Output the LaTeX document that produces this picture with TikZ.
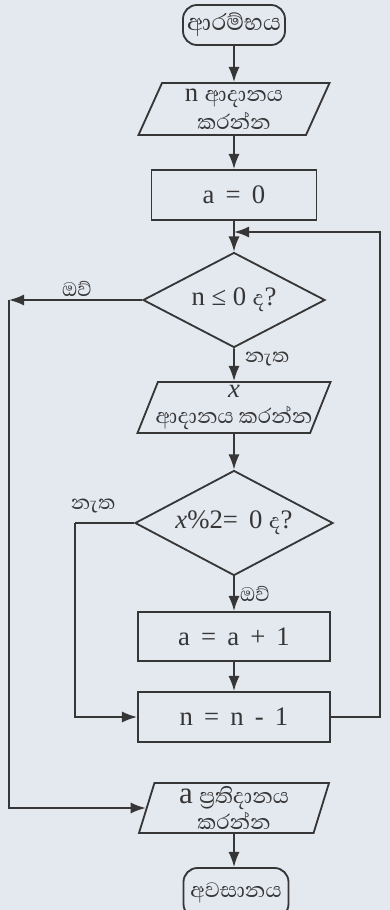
\documentclass[tikz,border=0pt]{standalone}
\usepackage{fontspec}
\setmainfont{Liberation Serif}
\newfontfamily\sinhala[Script=Sinhala]{Abhaya Libre}
\usepackage{xcolor}
\usepackage{tikz}
\usetikzlibrary{shapes.geometric,arrows.meta}
\definecolor{paper}{HTML}{E4E8EF}
\definecolor{ink}{HTML}{363636}

\begin{document}
\begin{tikzpicture}[x=0.25mm, y=-0.25mm, line width=1.3pt, color=ink,
    font=\fontsize{19}{22}\selectfont,
    flow/.style={-{Latex[length=3.8mm,width=2.8mm]}},
    term/.style={draw, rounded corners=3.5mm, inner sep=0pt},
    proc/.style={draw, rectangle, inner sep=0pt},
    io/.style={draw, trapezium, trapezium stretches body, inner ysep=0pt, inner xsep=-4mm, align=center},
    test/.style={draw, diamond, aspect=1.9, inner sep=0pt},
    lbl/.style={font=\sinhala\fontsize{18}{21}\selectfont}]

      % --- paper, fixed to the reference size ---
      \fill[paper] (0,0) rectangle (390,910);
      \clip (0,0) rectangle (390,910);

      % --- main column of steps ---
      \node[term, minimum width=25.5mm, minimum height=10mm] (start) at (234,25) {\sinhala\fontsize{21}{24}\selectfont ආරම්භය};
      \node[io, trapezium left angle=60, trapezium right angle=120,
            minimum width=47.75mm, minimum height=13mm, font=\fontsize{19}{20}\selectfont] (readn) at (234,109)
            {n \sinhala ආදානය\\\sinhala කරන්න};
      \node[proc, minimum width=41.25mm, minimum height=12.5mm] (seta) at (234,195) {a \,=\, 0};
      \node[test, minimum width=45.5mm, minimum height=23.75mm] (testn) at (234,300) {n ≤ 0 {\sinhala ද}?};
      \node[io, trapezium left angle=65, trapezium right angle=115,
            minimum width=48.25mm, minimum height=12.75mm, font=\fontsize{19}{18}\selectfont] (readx) at (234,407.5)
            {\textit{x}\\\sinhala ආදානය කරන්න};
      \node[test, minimum width=49.5mm, minimum height=26.25mm] (testx) at (234,523) {\textit{x}\%2= \,0 {\sinhala ද}?};
      \node[proc, minimum width=48mm, minimum height=12.25mm] (inca) at (234,636.5) {a \,=\, a \,+\, 1};
      \node[proc, minimum width=48mm, minimum height=12.5mm] (decn) at (234,717) {n \,=\, n \,-\, 1};
      \node[io, trapezium left angle=70, trapezium right angle=110,
            minimum width=47.5mm, minimum height=12.5mm, font=\fontsize{19}{18}\selectfont] (outa) at (234,808)
            {{\fontsize{22}{18}\selectfont a} {\sinhala ප්^^^^200dරතිදානය}\\\sinhala කරන්න};
      \node[term, minimum width=26.25mm, minimum height=12.5mm] (stop) at (236,893) {\sinhala අවසානය};

      % --- corner points of the loops ---
      \coordinate (merge) at (234,232);
      \coordinate (backup) at (380,232);
      \coordinate (yesout) at (9,300);
      \coordinate (noskip) at (75,523);

      % --- straight flow ---
      \draw[flow] (start) -- (readn);
      \draw[flow] (readn) -- (seta);
      \draw[flow] (seta) -- (testn);
      \draw[flow] (testn) -- (readx);
      \draw[flow] (readx) -- (testx);
      \draw[flow] (testx) -- (inca);
      \draw[flow] (inca) -- (decn);
      \draw[flow] (outa.south) -- (outa.south |- stop.north);

      % --- loop back and exits ---
      \draw[flow] (decn.east) -| (backup) -- (merge);
      \draw[flow] (testn.west) -- (yesout);
      \draw[flow] (yesout) |- (outa);
      \draw (testx.west) -- (noskip);
      \draw[flow] (noskip) |- (decn);

      % --- branch labels ---
      \node[lbl] (yes1) at (77,289) {ඔව්};
      \node[lbl] (no1) at (267,359) {නැත};
      \node[lbl] (no2) at (93,506) {නැත};
      \node[lbl] (yes2) at (255,594) {ඔව්};
    \end{tikzpicture}
\end{document}
